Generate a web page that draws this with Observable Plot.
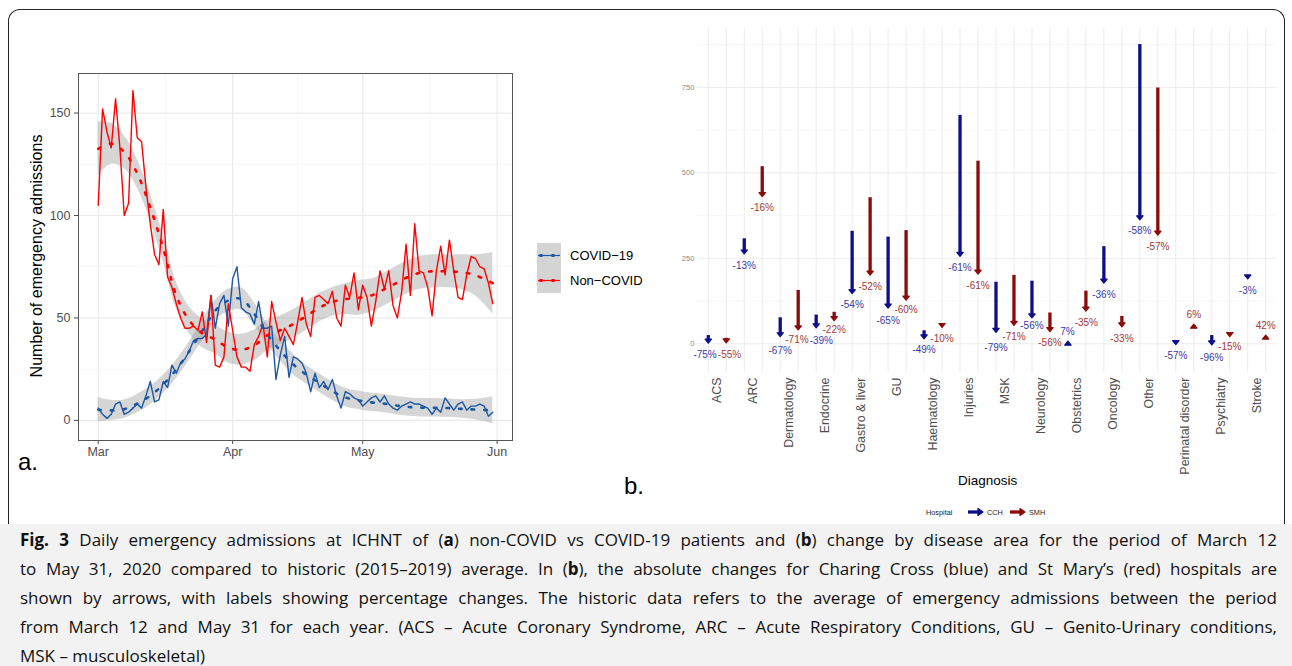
<!DOCTYPE html>
<html><head><meta charset="utf-8">
<script src="https://cdn.jsdelivr.net/npm/d3@7"></script>
<script src="https://cdn.jsdelivr.net/npm/@observablehq/plot@0.6"></script>
<style>
body{margin:0;background:#fff;}
#page{position:relative;width:1292px;height:666px;overflow:hidden;font-family:"Liberation Sans",Arial,sans-serif;color:#000;}
.abs{position:absolute;}
#frame{position:absolute;left:8px;top:9px;width:1275px;height:514px;border:1px solid #222;border-bottom:none;border-radius:12px 12px 0 0;}
#caption{position:absolute;left:0;top:524px;width:1292px;height:142px;background:#f2f2f2;}
.cl{position:absolute;left:20px;width:1257px;font-family:"Open Sans",sans-serif;font-size:17px;line-height:20px;white-space:nowrap;text-align:justify;text-align-last:justify;color:#111;}
.cl.last{text-align-last:left;}
</style></head>
<body><div id="page">
<div id="frame"></div>
<div id="caption"></div>
<div id="pa" class="abs" style="left:0;top:50px;"></div>
<div id="pb" class="abs" style="left:660px;top:20px;"></div>
<div class="abs" style="left:37px;top:256px;transform:translate(-50%,-50%) rotate(-90deg);font-size:16px;white-space:nowrap;">Number of emergency admissions</div>
<div id="legA" class="abs" style="left:530px;top:236px;"></div>
<div class="abs" style="left:18px;top:448px;font-size:24px;">a.</div>
<div class="abs" style="left:624px;top:472px;font-size:24px;">b.</div>
<div class="abs" style="left:958px;top:473px;font-size:13.5px;">Diagnosis</div>
<div id="legB" class="abs" style="left:926px;top:504px;"></div>
<div id="caplines"></div>
</div>
<script>
// ---------- Panel a data ----------
const seriesNames = ["COVID-19", "Non-COVID"];
const seriesLabels = ["COVID\u221219", "Non\u2212COVID"];
const seriesColors = ["#1c57a5", "#ff0000"];
const monthLabels = ["Mar", "Apr", "May", "Jun"];
const yTicksA = [0, 50, 100, 150];
const yMinorA = [25, 75, 125];
// daily admissions, 1 March .. 31 May 2020
const covidDaily = [
  6, 3, 1, 3, 8, 9, 3, 4, 6, 8,
  6, 12, 19, 9, 10, 19, 16, 27, 23, 28,
  30, 34, 39, 40, 40, 42, 61, 45, 57, 61,
  46, 69, 75, 55, 53, 52, 47, 58, 45, 45,
  46, 20, 32, 41, 21, 31, 30, 28, 23, 14,
  23, 16, 19, 15, 20, 12, 6, 14, 13, 11,
  10, 7, 9, 11, 12, 9, 12, 8, 6, 5,
  7, 8, 9, 8, 8, 7, 6, 3, 6, 4,
  11, 8, 5, 8, 9, 5, 7, 7, 8, 7,
  2, 4];
const nonCovidDaily = [
  105, 152, 141, 133, 157, 133, 100, 106, 161, 138,
  136, 114, 96, 81, 76, 103, 70, 65, 57, 50,
  45, 45, 46, 44, 53, 38, 61, 27, 26, 31,
  57, 44, 31, 26, 26, 24, 37, 41, 47, 31,
  58, 48, 39, 45, 41, 37, 48, 60, 47, 41,
  60, 61, 59, 57, 63, 50, 46, 66, 60, 72,
  54, 66, 60, 46, 58, 73, 64, 73, 56, 50,
  63, 86, 61, 96, 73, 72, 65, 51, 73, 85,
  71, 88, 73, 60, 59, 71, 80, 79, 75, 74,
  67, 57];
// smoothed trend (read at knots, day index from 1 March) with confidence half-width
const smoothDays = [0, 3, 6, 9, 12, 15, 18, 21, 24, 27, 30, 33, 36, 39, 42, 45, 48, 51, 54, 57, 60, 63, 66, 69, 72, 75, 78, 81, 84, 87, 91];
const covidSmooth = [5.2, 4.9, 5.5, 8.2, 12, 17.6, 24.8, 33.8, 43.7, 53.6, 58.5, 59.3, 52, 42, 34, 27.3, 22.3, 18.3, 14.3, 11.2, 9.8, 8.8, 8.2, 7.2, 6.5, 6.2, 6.2, 6, 5.6, 5.3, 4.9];
const covidCI = [6, 5, 4.5, 4.5, 4.5, 4.5, 4.5, 4.5, 5, 5, 5.5, 5.5, 5.5, 5, 5, 5, 4.5, 4.5, 4.5, 4.5, 4.5, 4.5, 4.5, 4.5, 4.5, 4.5, 4.5, 4.5, 4.5, 5, 6.5];
const nonCovidSmooth = [132.5, 135, 131, 120.5, 104, 84, 61, 48.8, 42.5, 39.5, 35.5, 34.5, 36.6, 41.5, 44, 47, 51, 55, 57.8, 59.2, 59.8, 61, 64, 67.3, 70.5, 72.4, 72.8, 72.7, 72.3, 70.8, 67];
const nonCovidCI = [13, 10, 8, 7, 6.5, 6.5, 6.5, 6.5, 7, 7, 7.5, 7.5, 7.5, 7.5, 7, 7, 7, 7, 7, 7.5, 8.5, 8, 8, 8, 8, 8, 8, 8, 8.5, 10, 15];

// ---------- Panel b data ----------
const diagnoses = ["ACS", "ARC", "Dermatology", "Endocrine", "Gastro & liver", "GU", "Haematology", "Injuries", "MSK", "Neurology", "Obstetrics", "Oncology", "Other", "Perinatal disorder", "Psychiatry", "Stroke"];
const hospitals = ["CCH", "SMH"];
const hospitalColors = ["#0b0f8a", "#8b0a0a"];
const labelColors = ["#3a3aa8", "#a33a3a"];
const cchHistoric = [24, 307, 76, 84, 329, 312, 38, 668, 180, 183, 3, 284, 875, 5, 24, 200];
const cch2020 = [6, 267, 25, 51, 151, 109, 19, 260, 38, 80, 3.2, 182, 367, 2, 1, 194];
const cchPct = [-75, -13, -67, -39, -54, -65, -49, -61, -79, -56, 7, -36, -58, -57, -96, -3];
const smhHistoric = [16, 518, 156, 92, 427, 331, 58, 534, 200, 90, 154, 80, 748, 50, 30, 15];
const smh2020 = [7, 435, 45, 72, 205, 132, 52, 208, 58, 40, 100, 54, 322, 53, 25.5, 21];
const smhPct = [-55, -16, -71, -22, -52, -60, -10, -61, -71, -56, -35, -33, -57, 6, -15, 42];
const yTicksB = [0, 250, 500, 750];
const yMinorB = [125, 375, 625, 875];

const FONT = '"Liberation Sans", Arial, sans-serif';

// ================= Panel a =================
const start = new Date(Date.UTC(2020, 2, 1));
const monthTicks = [0, 1, 2, 3].map(k => new Date(Date.UTC(2020, 2 + k, 1)));
const xMinorA = [new Date(Date.UTC(2020, 2, 16, 12)), new Date(Date.UTC(2020, 3, 16)), new Date(Date.UTC(2020, 4, 16, 12))];
const xDomainA = [new Date(Date.UTC(2020, 1, 25, 10, 48)), new Date(Date.UTC(2020, 5, 4, 13, 12))];

const dailyRows = [];
[covidDaily, nonCovidDaily].forEach((vals, k) => vals.forEach((v, i) =>
  dailyRows.push({series: seriesNames[k], date: d3.utcDay.offset(start, i), value: v})));
const smoothRows = [];
[[covidSmooth, covidCI], [nonCovidSmooth, nonCovidCI]].forEach(([m, c], k) => smoothDays.forEach((d, i) =>
  smoothRows.push({series: seriesNames[k], date: d3.utcDay.offset(start, d), mean: m[i], lo: m[i] - c[i], hi: m[i] + c[i]})));

const plotA = Plot.plot({
  width: 520, height: 420,
  marginLeft: 78, marginRight: 8, marginTop: 23, marginBottom: 30,
  style: {fontFamily: FONT, fontSize: "12.5px", color: "#4d4d4d", background: "transparent", overflow: "visible"},
  x: {type: "utc", domain: xDomainA, ticks: monthTicks, tickFormat: d => monthLabels[d.getUTCMonth() - 2], tickSize: 4, tickPadding: 3, label: null},
  y: {domain: [-9.8, 169.3], ticks: yTicksA, tickSize: 4, tickPadding: 4, label: null},
  color: {domain: seriesNames, range: seriesColors},
  marks: [
    Plot.ruleY(yMinorA, {stroke: "#f3f3f3", strokeWidth: 0.7}),
    Plot.ruleX(xMinorA, {stroke: "#f3f3f3", strokeWidth: 0.7}),
    Plot.ruleY(yTicksA, {stroke: "#ebebeb", strokeWidth: 1.2}),
    Plot.ruleX(monthTicks, {stroke: "#ebebeb", strokeWidth: 1.2}),
    Plot.areaY(smoothRows, {x: "date", y1: "lo", y2: "hi", z: "series", fill: "#999999", fillOpacity: 0.4, curve: "catmull-rom"}),
    Plot.lineY(dailyRows, {x: "date", y: "value", z: "series", stroke: "series", strokeWidth: 1.4}),
    Plot.lineY(smoothRows, {x: "date", y: "mean", z: "series", stroke: "series", strokeWidth: 2.6, strokeDasharray: "2.6 10", curve: "catmull-rom"}),
    Plot.frame({stroke: "#555", strokeWidth: 1})
  ]
});
document.getElementById("pa").appendChild(plotA);

// legend a
(function () {
  const w = 140, h = 64;
  const svg = d3.create("svg").attr("width", w).attr("height", h).style("overflow", "visible");
  seriesNames.forEach((s, k) => {
    const y = 7 + k * 25;
    svg.append("rect").attr("x", 7).attr("y", y).attr("width", 24).attr("height", 25).attr("fill", "#d4d4d4");
    svg.append("line").attr("x1", 8).attr("x2", 30).attr("y1", y + 12.5).attr("y2", y + 12.5).attr("stroke", seriesColors[k]).attr("stroke-width", 1.2);
    [11, 23].forEach(cx => svg.append("rect").attr("x", cx - 1.5).attr("y", y + 11).attr("width", 3).attr("height", 3).attr("fill", seriesColors[k]));
    svg.append("text").attr("x", 40).attr("y", y + 12.5).attr("dy", "0.35em").attr("font-size", 13).attr("font-family", FONT).text(seriesLabels[k]);
  });
  document.getElementById("legA").appendChild(svg.node());
})();

// ================= Panel b =================
const WB = 630, HB = 460, mL = 37, mR = 14, mT = 8, mB = 108;
const xDomB = [-0.55, 15.55], yDomB = [-84, 922];
const xS = d3.scaleLinear(xDomB, [mL, WB - mR]);
const yS = d3.scaleLinear(yDomB, [HB - mB, mT]);

const rowsB = [];
diagnoses.forEach((d, i) => {
  rowsB.push({hosp: 0, pos: i - 0.25, hist: cchHistoric[i], now: cch2020[i], pct: cchPct[i]});
  rowsB.push({hosp: 1, pos: i + 0.25, hist: smhHistoric[i], now: smh2020[i], pct: smhPct[i]});
});
rowsB.forEach(r => { r.label = r.pct + "%"; r.up = r.now > r.hist; });

// simple label repulsion (in pixels), then back to data units
const labs = rowsB.map(r => ({r, x: xS(r.pos), y: yS(r.now) + (r.up ? -11 : 13), w: r.label.length * 5.6 + 2, h: 11}));
const obstacles = rowsB.map(r => ({x: xS(r.pos), y: yS(r.now) + (r.up ? 3 : -3), w: 9, h: 8}));
for (let it = 0; it < 300; it++) {
  for (let i = 0; i < labs.length; i++) {
    const a = labs[i];
    for (let j = i + 1; j < labs.length; j++) {
      const b = labs[j];
      const ox = (a.w + b.w) / 2 - Math.abs(a.x - b.x), oy = (a.h + b.h) / 2 - Math.abs(a.y - b.y);
      if (ox > 0 && oy > 0) {
        if (ox < oy) { const s = a.x <= b.x ? -1 : 1; a.x += s * ox / 2 * 0.5; b.x -= s * ox / 2 * 0.5; }
        else { const s = a.y <= b.y ? -1 : 1; a.y += s * oy / 2 * 0.5; b.y -= s * oy / 2 * 0.5; }
      }
    }
    for (const o of obstacles) {
      const ox = (a.w + o.w) / 2 - Math.abs(a.x - o.x), oy = (a.h + o.h) / 2 - Math.abs(a.y - o.y);
      if (ox > 0 && oy > 0) {
        if (ox < oy) a.x += (a.x <= o.x ? -1 : 1) * ox * 0.5;
        else a.y += (a.y <= o.y ? -1 : 1) * oy * 0.5;
      }
    }
  }
}
labs.forEach(l => { l.r.lx = xS.invert(l.x); l.r.ly = yS.invert(l.y); });

const headDown = {draw(ctx, size) { const r = Math.sqrt(size / Math.PI); ctx.moveTo(0, 0); ctx.lineTo(r, -1.25 * r); ctx.lineTo(-r, -1.25 * r); ctx.closePath(); }};
const headUp = {draw(ctx, size) { const r = Math.sqrt(size / Math.PI); ctx.moveTo(0, 0); ctx.lineTo(r, 1.25 * r); ctx.lineTo(-r, 1.25 * r); ctx.closePath(); }};

const marksB = [
  Plot.ruleY(yMinorB, {stroke: "#f4f4f4", strokeWidth: 0.6}),
  Plot.ruleY(yTicksB, {stroke: "#ececec", strokeWidth: 1}),
  Plot.ruleX(rowsB, {x: "pos", stroke: "#ececec", strokeWidth: 1}),
  Plot.text(yTicksB, {y: d => d, frameAnchor: "left", textAnchor: "end", dx: -3, fontSize: 7.6, fill: "#8a8a8a"})
];
[0, 1].forEach(h => {
  const rs = rowsB.filter(r => r.hosp === h);
  marksB.push(Plot.ruleX(rs, {x: "pos", y1: "hist", y2: "now", stroke: hospitalColors[h], strokeWidth: 3.3}));
  marksB.push(Plot.dot(rs.filter(r => !r.up), {x: "pos", y: "now", symbol: headDown, r: 3.2, dy: 1.5, fill: hospitalColors[h], stroke: hospitalColors[h], strokeWidth: 1.2, strokeLinejoin: "round"}));
  marksB.push(Plot.dot(rs.filter(r => r.up), {x: "pos", y: "now", symbol: headUp, r: 3.2, dy: -1.5, fill: hospitalColors[h], stroke: hospitalColors[h], strokeWidth: 1.2, strokeLinejoin: "round"}));
});
[0, 1].forEach(h => {
  marksB.push(Plot.text(rowsB.filter(r => r.hosp === h), {x: "lx", y: "ly", text: "label", fontSize: 10, fill: labelColors[h]}));
});

const plotB = Plot.plot({
  width: WB, height: HB, marginLeft: mL, marginRight: mR, marginTop: mT, marginBottom: mB,
  style: {fontFamily: FONT, fontSize: "12.4px", color: "#4d4d4d", background: "transparent", overflow: "visible"},
  x: {domain: xDomB, ticks: d3.range(diagnoses.length), tickFormat: i => diagnoses[i], tickRotate: -90, tickSize: 0, tickPadding: 5, label: null},
  y: {domain: yDomB, axis: null},
  marks: marksB
});
document.getElementById("pb").appendChild(plotB);

// legend b
(function () {
  const svg = d3.create("svg").attr("width", 140).attr("height", 16).style("overflow", "visible");
  svg.append("text").attr("x", 0).attr("y", 8).attr("dy", "0.35em").attr("font-size", 7.3).attr("font-family", FONT).attr("fill", "#222").text("Hospital");
  const xs = [42, 84];
  hospitals.forEach((hn, k) => {
    const x0 = xs[k];
    svg.append("line").attr("x1", x0).attr("x2", x0 + 11).attr("y1", 8).attr("y2", 8).attr("stroke", hospitalColors[k]).attr("stroke-width", 3.3);
    svg.append("path").attr("d", `M${x0 + 15},8 L${x0 + 10},4.5 L${x0 + 10},11.5 Z`).attr("fill", hospitalColors[k]).attr("stroke", hospitalColors[k]).attr("stroke-width", 1.2).attr("stroke-linejoin", "round");
    svg.append("text").attr("x", x0 + 19).attr("y", 8).attr("dy", "0.35em").attr("font-size", 7.3).attr("font-family", FONT).attr("fill", "#222").text(hn);
  });
  document.getElementById("legB").appendChild(svg.node());
})();

// caption
const captionLines = [
  "<b>Fig. 3</b> Daily emergency admissions at ICHNT of (<b>a</b>) non-COVID vs COVID-19 patients and (<b>b</b>) change by disease area for the period of March 12",
  "to May 31, 2020 compared to historic (2015\u20132019) average. In (<b>b</b>), the absolute changes for Charing Cross (blue) and St Mary\u2019s (red) hospitals are",
  "shown by arrows, with labels showing percentage changes. The historic data refers to the average of emergency admissions between the period",
  "from March 12 and May 31 for each year. (ACS \u2013 Acute Coronary Syndrome, ARC \u2013 Acute Respiratory Conditions, GU \u2013 Genito-Urinary conditions,",
  "MSK \u2013 musculoskeletal)"
];
const cap = document.getElementById("caplines");
captionLines.forEach((t, i) => {
  const d = document.createElement("div");
  d.className = "cl" + (i === captionLines.length - 1 ? " last" : "");
  d.style.top = (530 + i * 29) + "px";
  d.innerHTML = t;
  cap.appendChild(d);
});
</script>
</body></html>
